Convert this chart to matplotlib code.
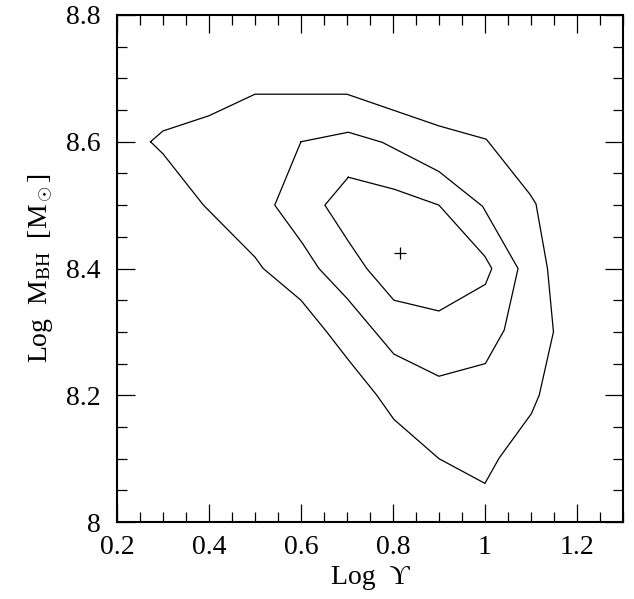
import matplotlib
matplotlib.use("Agg")
import matplotlib.pyplot as plt
from matplotlib.ticker import MultipleLocator

# contour vertices (log upsilon, log M_BH)
outer_x = [0.273, 0.300, 0.400, 0.500, 0.700, 0.900, 1.003, 1.098, 1.111, 1.136, 1.149,
           1.118, 1.101, 1.031, 1.000, 0.900, 0.802, 0.765, 0.703, 0.656, 0.600, 0.518,
           0.500, 0.388, 0.300, 0.273]
outer_y = [8.600, 8.617, 8.641, 8.675, 8.675, 8.625, 8.604, 8.517, 8.502, 8.400, 8.300,
           8.200, 8.171, 8.101, 8.061, 8.100, 8.162, 8.200, 8.256, 8.300, 8.350, 8.400,
           8.418, 8.500, 8.581, 8.600]

middle_x = [0.600, 0.703, 0.777, 0.900, 0.995, 1.072, 1.042, 1.001, 0.900, 0.802, 0.700,
            0.639, 0.603, 0.543, 0.600]
middle_y = [8.600, 8.615, 8.599, 8.553, 8.498, 8.400, 8.303, 8.250, 8.230, 8.265, 8.353,
            8.400, 8.440, 8.500, 8.600]

inner_x = [0.703, 0.803, 0.900, 1.000, 1.015, 1.001, 0.900, 0.802, 0.743, 0.703, 0.652, 0.703]
inner_y = [8.544, 8.525, 8.500, 8.419, 8.400, 8.375, 8.333, 8.350, 8.400, 8.443, 8.500, 8.544]

best_x = [0.815]
best_y = [8.424]

x_ticks = [0.2, 0.4, 0.6, 0.8, 1.0, 1.2]
x_labels = ["0.2", "0.4", "0.6", "0.8", "1", "1.2"]
y_ticks = [8.0, 8.2, 8.4, 8.6, 8.8]
y_labels = ["8", "8.2", "8.4", "8.6", "8.8"]

plt.rcParams['font.family'] = ['Liberation Serif', 'DejaVu Serif']
plt.rcParams['mathtext.fontset'] = 'custom'
plt.rcParams['mathtext.rm'] = 'Liberation Serif'
plt.rcParams['mathtext.it'] = 'Liberation Serif:italic'

fig = plt.figure(figsize=(6.34, 5.99), dpi=100)
ax = fig.add_axes([0.1845, 0.1285, 0.798, 0.8465])

for xs, ys in [(outer_x, outer_y), (middle_x, middle_y), (inner_x, inner_y)]:
    ax.plot(xs, ys, color="black", lw=0.9)
ax.plot(best_x, best_y, marker="+", color="black", ms=8, mew=0.9, ls="none")

ax.set_xlim(0.2, 1.3)
ax.set_ylim(8.0, 8.8)
ax.set_xticks(x_ticks)
ax.set_xticklabels(x_labels)
ax.set_yticks(y_ticks)
ax.set_yticklabels(y_labels)
ax.xaxis.set_minor_locator(MultipleLocator(0.05))
ax.yaxis.set_minor_locator(MultipleLocator(0.05))

ax.tick_params(which="both", direction="in", top=True, right=True, width=0.9, labelsize=20)
ax.tick_params(which="major", length=13)
ax.tick_params(which="minor", length=7)
ax.tick_params(axis="x", pad=9)
ax.tick_params(axis="y", pad=12)
for s in ax.spines.values():
    s.set_linewidth(1.5)

ax.set_xlabel("Log  ϒ", fontsize=20, labelpad=4)
ax.set_ylabel(r"Log  M$_{\mathrm{BH}}$  [M$_\odot$]", fontsize=20, labelpad=8)

fig.savefig("out.png", dpi=100)
